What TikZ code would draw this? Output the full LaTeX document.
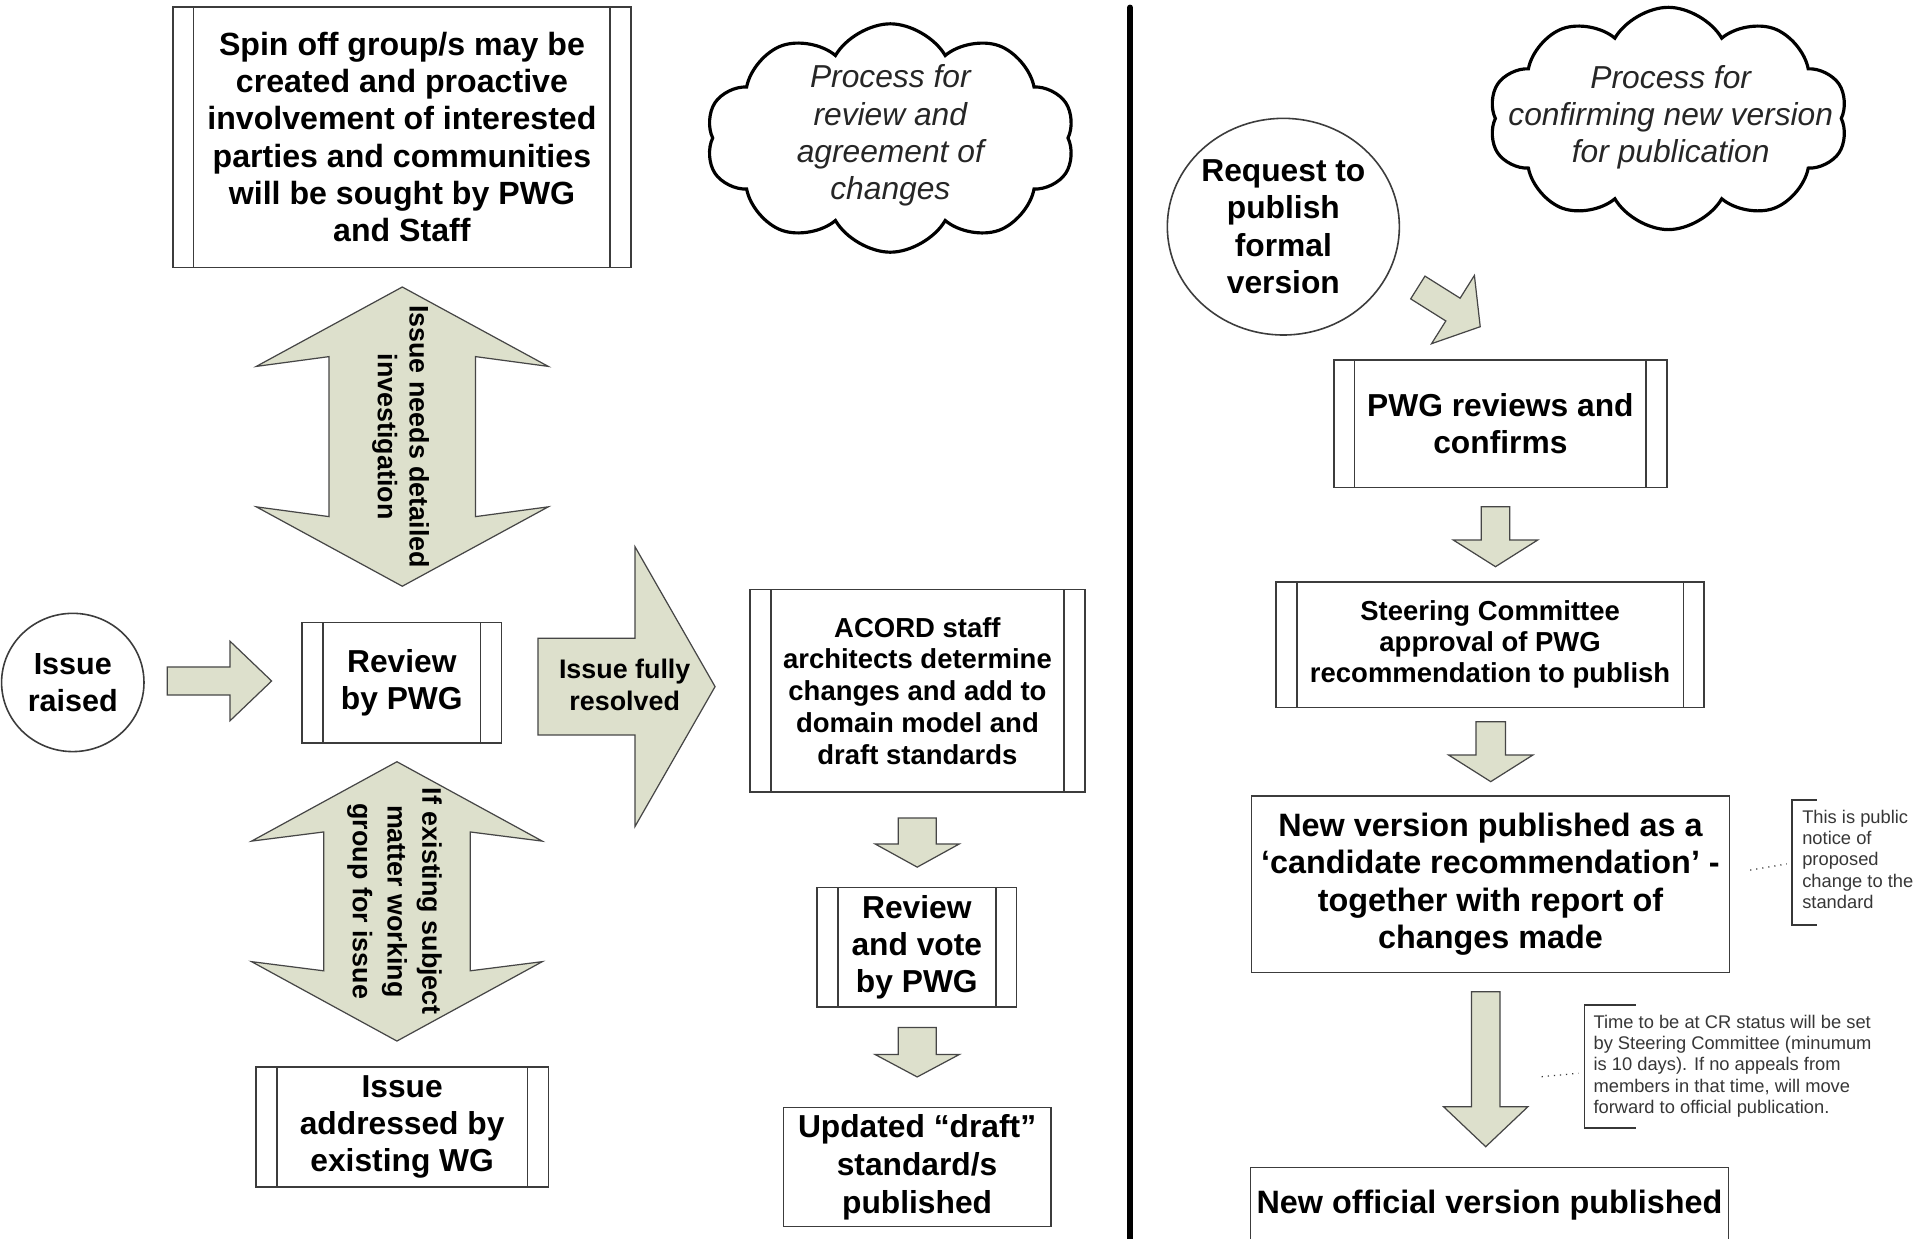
\documentclass[tikz,border=0pt]{standalone}
\usepackage{fontspec}
\setmainfont{Liberation Sans}
\usetikzlibrary{calc,shapes.geometric,shapes.symbols}
\definecolor{arrowfill}{RGB}{221,224,204}
\definecolor{arrowline}{RGB}{70,70,70}
\definecolor{boxc}{RGB}{60,60,60}
\definecolor{annot}{RGB}{55,55,55}
\newcommand\fsz[2]{\fontsize{#1}{#2}\selectfont}
% single block arrow: from, to, body half width, head half width, head length, indent
\newcommand\blockarrow[6]{%
  \path[blockarrowstyle] let \p1=($(#2)-(#1)$), \n1={atan2(\y1,\x1)}, \n2={veclen(\x1,\y1)} in
    ($(#1)+(\n1+90:#3)$) -- ($(#1)+(\n1:\n2-#5+#6)+(\n1+90:#3)$) -- ($(#1)+(\n1:\n2-#5)+(\n1+90:#4)$)
    -- (#2) -- ($(#1)+(\n1:\n2-#5)+(\n1-90:#4)$) -- ($(#1)+(\n1:\n2-#5+#6)+(\n1-90:#3)$)
    -- ($(#1)+(\n1-90:#3)$) -- cycle;}
% double block arrow: tip, tip, body half width, head half width, head length, indent
\newcommand\dblarrow[6]{%
  \path[blockarrowstyle] let \p1=($(#2)-(#1)$), \n1={atan2(\y1,\x1)}, \n2={veclen(\x1,\y1)} in
    (#1) -- ($(#1)+(\n1:#5)+(\n1+90:#4)$) -- ($(#1)+(\n1:#5-#6)+(\n1+90:#3)$)
    -- ($(#1)+(\n1:\n2-#5+#6)+(\n1+90:#3)$) -- ($(#1)+(\n1:\n2-#5)+(\n1+90:#4)$)
    -- (#2) -- ($(#1)+(\n1:\n2-#5)+(\n1-90:#4)$) -- ($(#1)+(\n1:\n2-#5+#6)+(\n1-90:#3)$)
    -- ($(#1)+(\n1:#5-#6)+(\n1-90:#3)$) -- ($(#1)+(\n1:#5)+(\n1-90:#4)$) -- cycle;}
\begin{document}
\begin{tikzpicture}[x=1pt,y=-1pt,
  blockarrowstyle/.style={fill=arrowfill, draw=arrowline, line width=1pt, line join=miter},
  box/.style={draw=boxc, line width=1.3pt, align=center, inner sep=0pt, text=black, fill=white},
  proc/.style={box, path picture={
      \draw[boxc, line width=1.3pt] ([xshift=17pt]path picture bounding box.north west) -- ([xshift=17pt]path picture bounding box.south west);
      \draw[boxc, line width=1.3pt] ([xshift=-17pt]path picture bounding box.north east) -- ([xshift=-17pt]path picture bounding box.south east);}},
  oval/.style={ellipse, draw=boxc, line width=1.3pt, align=center, inner sep=0pt, text=black},
  cloudshape/.style={cloud, draw=black, line width=2.6pt, cloud puffs=10, cloud puff arc=120, aspect=1.6, inner sep=0pt},
  cloudtext/.style={font=\itshape\fsz{26}{30.5}, align=center, inner sep=0pt, text=black!85},
  arrowtext/.style={font=\bfseries\fsz{22}{27}, align=center, inner sep=0pt, text=black},
  note/.style={font=\fsz{15}{17.4}, align=left, inner sep=0pt, text=annot, anchor=north west},
  bracketline/.style={draw=annot, line width=1.5pt},
  notelink/.style={draw=annot, line width=1pt, dash pattern=on 1pt off 4pt}
]
\useasboundingbox (0,0) rectangle (1568,1014);
\clip (0,0) rectangle (1568,1014);
\fill[white] (0,0) rectangle (1568,1014);

% ---------------- left part ----------------
\node[proc, minimum width=375.2pt, minimum height=213.4pt, font=\bfseries\fsz{26.3}{30.5}] (spin) at (329.1,112.2)
  {Spin off group/s may be\\created and proactive\\involvement of interested\\parties and communities\\will be sought by PWG\\and Staff};

\node[oval, minimum width=116.6pt, minimum height=113.2pt, font=\bfseries\fsz{25}{30}] (issue) at (59.6,558.8) {Issue\\raised};

\node[proc, minimum width=163pt, minimum height=98.8pt, font=\bfseries\fsz{26}{30.5}] (review) at (329,559.2) {Review\\by PWG};

\node[proc, minimum width=239.4pt, minimum height=98.3pt, font=\bfseries\fsz{26}{30.5}] (wg) at (329.3,922.6) {Issue\\addressed by\\existing WG};

% arrows of left part
\coordinate (a1s) at (137,557.6);
\coordinate (a1e) at (222.4,557.6);
\blockarrow{a1s}{a1e}{11.5pt}{32.5pt}{34pt}{0pt}

\coordinate (up1) at (329.4,235);
\coordinate (dn1) at (329.4,480);
\dblarrow{up1}{dn1}{60pt}{119.5pt}{65pt}{8pt}
\node[arrowtext, rotate=-90, font=\bfseries\fsz{22}{26}] (invtxt) at (328,357.5) {Issue needs detailed\\investigation};

\coordinate (up2) at (325,623.7);
\coordinate (dn2) at (325,852.4);
\dblarrow{up2}{dn2}{60pt}{119pt}{65pt}{7.5pt}
\node[arrowtext, rotate=-90, font=\bfseries\fsz{22}{28.5}] (exttxt) at (323,738) {If existing subject\\matter working\\group for issue};

\coordinate (r1s) at (440.5,562.2);
\coordinate (r1e) at (585.5,562.2);
\blockarrow{r1s}{r1e}{39.6pt}{114.4pt}{65.5pt}{0pt}
\node[arrowtext, font=\bfseries\fsz{22}{26}] (restxt) at (511.5,561) {Issue fully\\resolved};

% ---------------- middle part ----------------
\node[cloudshape, minimum width=302pt, minimum height=187pt] (cloudA) at (729,113) {};
\node[cloudtext] (cloudAtxt) at (729,111) {Process for\\review and\\agreement of\\changes};

\node[proc, minimum width=274.3pt, minimum height=165.8pt, font=\bfseries\fsz{22.5}{26}] (acord) at (751.2,565.6)
  {ACORD staff\\architects determine\\changes and add to\\domain model and\\draft standards};

\node[proc, minimum width=163.4pt, minimum height=97.7pt, font=\bfseries\fsz{26}{30.5}] (vote) at (750.7,775.5) {Review\\and vote\\by PWG};

\node[box, minimum width=218.9pt, minimum height=97.6pt, font=\bfseries\fsz{26}{31}] (draft) at (750.9,955.5) {Updated “draft”\\standard/s\\published};

\coordinate (m1s) at (751,669.8);
\coordinate (m1e) at (751,710);
\blockarrow{m1s}{m1e}{15.5pt}{34.5pt}{19pt}{0pt}
\coordinate (m2s) at (751,841.3);
\coordinate (m2e) at (751,881.8);
\blockarrow{m2s}{m2e}{15.5pt}{34.5pt}{18.4pt}{0pt}

% divider
\draw[line width=4.5pt, line cap=round] (925.3,6) -- (925.3,1030);

% ---------------- right part ----------------
\node[cloudshape, minimum width=294pt, minimum height=182pt] (cloudB) at (1366,97) {};
\node[cloudtext] (cloudBtxt) at (1368,96) {Process for\\confirming new version\\for publication};

\node[oval, minimum width=185pt, minimum height=177.4pt, font=\bfseries\fsz{26}{30.5}] (request) at (1050.8,185.6) {Request to\\publish\\formal\\version};

\coordinate (dgs) at (1160.9,235.4);
\coordinate (dge) at (1212,267.5);
\blockarrow{dgs}{dge}{11pt}{33pt}{26.3pt}{0pt}

\node[proc, minimum width=272.7pt, minimum height=104.2pt, font=\bfseries\fsz{26}{30}] (pwg) at (1228.5,346.9) {PWG reviews and\\confirms};

\coordinate (n1s) at (1224.5,414.9);
\coordinate (n1e) at (1224.5,464);
\blockarrow{n1s}{n1e}{11.7pt}{34.5pt}{21.8pt}{0pt}

\node[proc, minimum width=350.6pt, minimum height=102.9pt, font=\bfseries\fsz{22.5}{25.5}] (steer) at (1220.1,527.8) {Steering Committee\\approval of PWG\\recommendation to publish};

\coordinate (n2s) at (1220.6,590.9);
\coordinate (n2e) at (1220.6,640);
\blockarrow{n2s}{n2e}{12pt}{34.5pt}{21.8pt}{0pt}

\node[box, minimum width=391.1pt, minimum height=144.3pt, font=\bfseries\fsz{26.5}{30.7}] (newver) at (1220.4,724)
  {New version published as a\\‘candidate recommendation’ -\\together with report of\\changes made};

\coordinate (n3s) at (1216.5,812);
\coordinate (n3e) at (1216.5,938.9);
\blockarrow{n3s}{n3e}{11.7pt}{34.5pt}{32.7pt}{0pt}

\node[box, anchor=north, minimum width=391.2pt, text height=38pt, text depth=45pt, font=\bfseries\fsz{26.5}{30.7}] (official) at (1219.6,955.3) {New official version published};

% notes
\node[note] (note1) at (1475.5,663) {This is public\\notice of\\proposed\\change to the\\standard};
\draw[bracketline] (1487.5,655) -- (1467,655) -- (1467,757.4) -- (1487.5,757.4);
\coordinate (l1a) at (1433,712.4);
\coordinate (l1b) at (1463,707.4);
\draw[notelink] (l1a) -- (l1b);

\node[note] (note2) at (1304.6,831) {Time to be at CR status will be set\\by Steering Committee (minumum\\is 10 days). If no appeals from\\members in that time, will move\\forward to official publication.};
\draw[bracketline] (1339.5,822.9) -- (1297.3,822.9) -- (1297.3,923.9) -- (1339.5,923.9);
\coordinate (l2a) at (1262.3,881.6);
\coordinate (l2b) at (1292.3,878.8);
\draw[notelink] (l2a) -- (l2b);
\end{tikzpicture}
\end{document}
